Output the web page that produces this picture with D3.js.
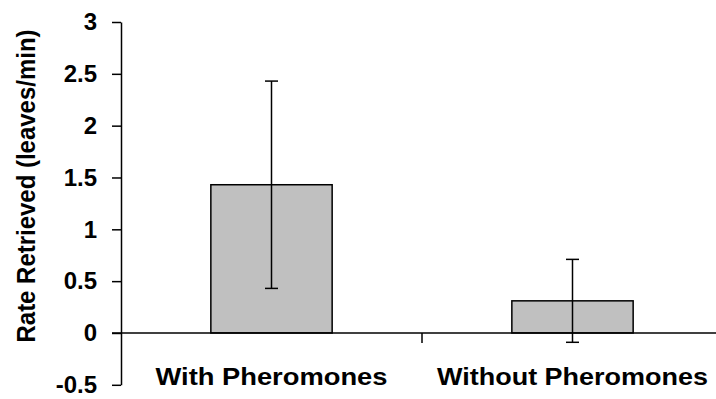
<!DOCTYPE html>
<html><head><meta charset="utf-8">
<script src="https://cdn.jsdelivr.net/npm/d3@7"></script>
<style>body{margin:0;background:#fff}</style>
</head><body>
<svg id="c" width="716" height="399"></svg>
<script>
const categories = ["With Pheromones", "Without Pheromones"];
const values = [1.43, 0.31];
const errors = [1.0, 0.40];
const tickValues = [-0.5, 0, 0.5, 1, 1.5, 2, 2.5, 3];
const tickLabels = ["-0.5", "0", "0.5", "1", "1.5", "2", "2.5", "3"];
const yTitle = "Rate Retrieved (leaves/min)";

const svg = d3.select("#c");
const font = "Liberation Sans, Arial, sans-serif";
const y = d3.scaleLinear().domain([-0.5, 3]).range([384.8, 22]);
const x = d3.scaleBand().domain(categories).range([121, 723]).padding(0);
const bw = x.bandwidth() * 0.403;

// y axis
const ya = svg.append("g").attr("transform", "translate(121,0)")
  .call(d3.axisLeft(y).tickValues(tickValues).tickSize(9).tickSizeOuter(0).tickPadding(15)
    .tickFormat((d, i) => tickLabels[i]));
ya.selectAll("path,line").attr("stroke", "#000").attr("stroke-width", 1.5);
ya.selectAll("text").attr("font-family", font).attr("font-weight", "bold")
  .attr("font-size", 24).attr("fill", "#000");

// bars
svg.selectAll("rect.bar").data(categories).enter().append("rect")
  .attr("x", d => x(d) + x.bandwidth() / 2 - bw / 2)
  .attr("width", bw)
  .attr("y", (d, i) => y(values[i]))
  .attr("height", (d, i) => y(0) - y(values[i]))
  .attr("fill", "#c0c0c0").attr("stroke", "#000").attr("stroke-width", 1.5);

// zero line
svg.append("line").attr("x1", 112).attr("x2", 716).attr("y1", y(0)).attr("y2", y(0))
  .attr("stroke", "#000").attr("stroke-width", 1.5);
// category divider
svg.append("line").attr("x1", x(categories[1])).attr("x2", x(categories[1]))
  .attr("y1", y(0)).attr("y2", y(0) + 10).attr("stroke", "#000").attr("stroke-width", 1.5);

// error bars
const eg = svg.selectAll("g.err").data(categories).enter().append("g");
eg.append("line")
  .attr("x1", d => x(d) + x.bandwidth() / 2).attr("x2", d => x(d) + x.bandwidth() / 2)
  .attr("y1", (d, i) => y(values[i] + errors[i])).attr("y2", (d, i) => y(values[i] - errors[i]))
  .attr("stroke", "#000").attr("stroke-width", 1.5);
[1, -1].forEach(s => {
  eg.append("line")
    .attr("x1", d => x(d) + x.bandwidth() / 2 - 6.5).attr("x2", d => x(d) + x.bandwidth() / 2 + 6.5)
    .attr("y1", (d, i) => y(values[i] + s * errors[i])).attr("y2", (d, i) => y(values[i] + s * errors[i]))
    .attr("stroke", "#000").attr("stroke-width", 1.5);
});

// category labels
const lens = [232, 271];
svg.selectAll("text.cat").data(categories).enter().append("text")
  .attr("x", d => x(d) + x.bandwidth() / 2).attr("y", 385)
  .attr("text-anchor", "middle").attr("font-family", font).attr("font-weight", "bold")
  .attr("font-size", 24).attr("textLength", (d, i) => lens[i]).attr("lengthAdjust", "spacingAndGlyphs")
  .text(d => d);

// y title
svg.append("text").attr("transform", "translate(35,186) rotate(-90)")
  .attr("text-anchor", "middle").attr("font-family", font).attr("font-weight", "bold")
  .attr("font-size", 25).attr("textLength", 313).attr("lengthAdjust", "spacingAndGlyphs")
  .text(yTitle);
</script>
</body></html>
